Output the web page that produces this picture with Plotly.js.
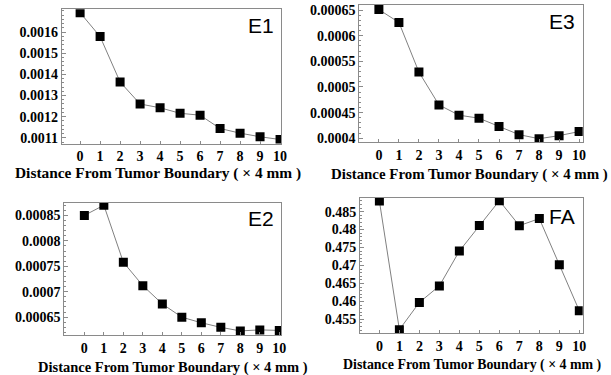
<!DOCTYPE html>
<html>
<head>
<meta charset="utf-8">
<script src="https://cdn.plot.ly/plotly-3.0.1.min.js"></script>
<style>html,body{margin:0;padding:0;background:#fff;}#chart{width:611px;height:375px;}</style>
</head>
<body>
<div id="chart"></div>
<script>
const distance = [0, 1, 2, 3, 4, 5, 6, 7, 8, 9, 10];
const xTickLabels = ["0","1","2","3","4","5","6","7","8","9","10"];

const e1Values = [0.001692, 0.001579, 0.001364, 0.001260, 0.001242, 0.001216, 0.001207, 0.001144, 0.001122, 0.001105, 0.001092];
const e3Values = [0.000651, 0.000626, 0.000529, 0.000465, 0.000445, 0.000439, 0.000423, 0.000407, 0.000399, 0.000405, 0.000413];
const e2Values = [0.000850, 0.000870, 0.000758, 0.000712, 0.000676, 0.000650, 0.000639, 0.000630, 0.000623, 0.000625, 0.000624];
const faValues = [0.48795, 0.45214, 0.45971, 0.46432, 0.47402, 0.48112, 0.48805, 0.4811, 0.48306, 0.47023, 0.4574];

const e1TickVals = [0.0011, 0.0012, 0.0013, 0.0014, 0.0015, 0.0016];
const e1TickText = ["0.0011", "0.0012", "0.0013", "0.0014", "0.0015", "0.0016"];
const e3TickVals = [0.0004, 0.00045, 0.0005, 0.00055, 0.0006, 0.00065];
const e3TickText = ["0.0004", "0.00045", "0.0005", "0.00055", "0.0006", "0.00065"];
const e2TickVals = [0.00065, 0.0007, 0.00075, 0.0008, 0.00085];
const e2TickText = ["0.00065", "0.0007", "0.00075", "0.0008", "0.00085"];
const faTickVals = [0.455, 0.46, 0.465, 0.47, 0.475, 0.48, 0.485];
const faTickText = ["0.455", "0.46", "0.465", "0.47", "0.475", "0.48", "0.485"];

const panelLabels = ["E1", "E3", "E2", "FA"];
const xTitle = "Distance From Tumor Boundary ( \u00d7 4 mm )";

const serifFamily = "Liberation Serif, Times New Roman, serif";
const serifBold = {family: serifFamily, size: 14, color: "#000", weight: "bold"};
const frameColor = "#8a8a8a";

function trace(y, xa, ya) {
  return {
    x: distance, y: y, xaxis: xa, yaxis: ya,
    type: "scatter", mode: "lines+markers",
    line: {color: "#808080", width: 1},
    marker: {symbol: "square", size: 9, color: "#000"},
    showlegend: false, hoverinfo: "x+y"
  };
}

function xAxis(domain, range, anchor) {
  return {
    domain: domain, range: range, anchor: anchor,
    tickvals: distance, ticktext: xTickLabels,
    ticks: "inside", ticklen: 3, tickcolor: frameColor,
    showline: true, mirror: true, linecolor: frameColor, linewidth: 1,
    showgrid: false, zeroline: false,
    tickfont: serifBold
  };
}

function yAxis(domain, range, anchor, vals, text, minorStep) {
  return {
    domain: domain, range: range, anchor: anchor,
    tickvals: vals, ticktext: text,
    ticks: "inside", ticklen: 4, tickcolor: frameColor,
    minor: {ticks: "inside", ticklen: 2, dtick: minorStep, tick0: vals[0], tickcolor: frameColor, showgrid: false},
    showline: true, mirror: true, linecolor: frameColor, linewidth: 1,
    showgrid: false, zeroline: false,
    tickfont: serifBold
  };
}

const data = [
  trace(e1Values, "x", "y"),
  trace(e3Values, "x2", "y2"),
  trace(e2Values, "x3", "y3"),
  trace(faValues, "x4", "y4")
];

const labelFont = {family: "Liberation Sans, Arial, sans-serif", size: 21, color: "#000"};

function panelLabel(text, xa, ya, y) {
  return {text: text, xref: xa + " domain", yref: ya + " domain", x: 0.975, y: y, xanchor: "right", yanchor: "middle", showarrow: false, font: labelFont};
}
function axisTitle(px, py, size) {
  return {text: xTitle, xref: "paper", yref: "paper", x: px / 611, y: 1 - py / 375, xanchor: "center", yanchor: "middle", showarrow: false,
          font: {family: serifFamily, size: size, color: "#000", weight: "bold"}};
}

const layout = {
  width: 611, height: 375,
  margin: {l: 0, r: 0, t: 0, b: 0},
  paper_bgcolor: "#fff", plot_bgcolor: "#fff",
  showlegend: false,
  xaxis: xAxis([0.101, 0.46], [-0.92, 10.05], "y"),
  yaxis: yAxis([0.6173, 0.9752], [0.001073, 0.001708], "x", e1TickVals, e1TickText, 0.00002),
  xaxis2: xAxis([0.588, 0.9537], [-0.98, 10.18], "y2"),
  yaxis2: yAxis([0.6205, 0.9867], [0.000392, 0.00066], "x2", e3TickVals, e3TickText, 0.00001),
  xaxis3: xAxis([0.1052, 0.46], [-1.03, 10.09], "y3"),
  yaxis3: yAxis([0.1067, 0.4595], [0.000615, 0.000875], "x3", e2TickVals, e2TickText, 0.00001),
  xaxis4: xAxis([0.5892, 0.9537], [-0.97, 10.17], "y4"),
  yaxis4: yAxis([0.1112, 0.4728], [0.45112, 0.48888], "x4", faTickVals, faTickText, 0.001),
  annotations: [
    panelLabel(panelLabels[0], "x", "y", 0.88),
    panelLabel(panelLabels[1], "x2", "y2", 0.88),
    panelLabel(panelLabels[2], "x3", "y3", 0.88),
    panelLabel(panelLabels[3], "x4", "y4", 0.86),
    axisTitle(158, 172.7, 15.4),
    axisTitle(469.5, 174.7, 14.9),
    axisTitle(173, 367.7, 14.5),
    axisTitle(472, 365, 13.9)
  ]
};

Plotly.newPlot("chart", data, layout, {displayModeBar: false, staticPlot: true});
</script>
</body>
</html>
